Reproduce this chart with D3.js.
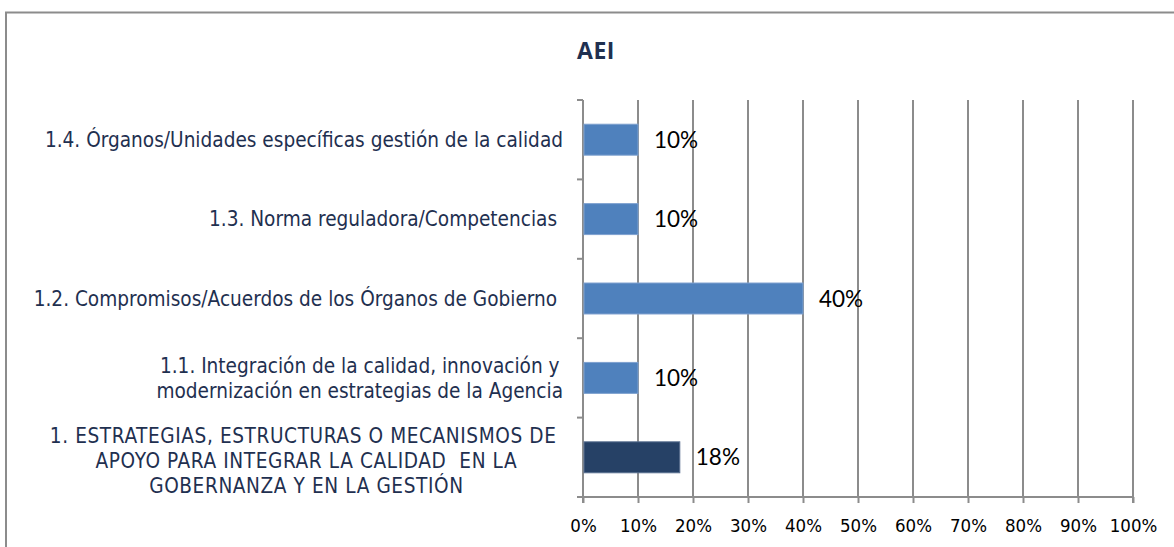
<!DOCTYPE html>
<html>
<head>
<meta charset="utf-8">
<script src="https://cdn.jsdelivr.net/npm/d3@7"></script>
<style>
  body { margin: 0; background: #fff; }
  svg { display: block; }
</style>
</head>
<body>
<div id="chart"></div>
<script>
// categories listed bottom to top as in the picture
const categories = [
    ["1. ESTRATEGIAS, ESTRUCTURAS O MECANISMOS DE ", "APOYO PARA INTEGRAR LA CALIDAD  EN LA", "GOBERNANZA Y EN LA GESTIÓN"],
    ["1.1. Integración de la calidad, innovación y", "modernización en estrategias de la Agencia"],
    ["1.2. Compromisos/Acuerdos de los Órganos de Gobierno "],
    ["1.3. Norma reguladora/Competencias "],
    ["1.4. Órganos/Unidades específicas gestión de la calidad"]
];
const values = [0.176, 0.10, 0.40, 0.10, 0.10];
const isTotal = [true, false, false, false, false];
const xTicks = [0, 0.1, 0.2, 0.3, 0.4, 0.5, 0.6, 0.7, 0.8, 0.9, 1.0];
const title = "AEI";

const W = 1174, H = 547;
const margin = { top: 100, right: 41, bottom: 50, left: 583 };
const width = W - margin.left - margin.right;
const height = H - margin.top - margin.bottom;

const svg = d3.select("#chart").append("svg")
    .attr("width", W)
    .attr("height", H);

// outer frame (runs off the right and bottom edges)
svg.append("rect")
    .attr("x", 6).attr("y", 12.5)
    .attr("width", 1300).attr("height", 700)
    .attr("fill", "none")
    .attr("stroke", "#8c8c8c")
    .attr("stroke-width", 2);

svg.append("text")
    .attr("x", 596).attr("y", 59)
    .attr("text-anchor", "middle")
    .attr("font-family", "'Open Sans', sans-serif")
    .attr("font-weight", 700)
    .attr("font-size", 23)
    .attr("letter-spacing", 0.5)
    .attr("fill", "#1f3050")
    .text(title);

const g = svg.append("g")
    .attr("transform", `translate(${margin.left},${margin.top})`);

const x = d3.scaleLinear().domain([0, 1]).range([0, width]);
const y = d3.scaleBand()
    .domain(d3.range(categories.length))
    .range([height, 0])
    .paddingInner(0.61)
    .paddingOuter(0.305);

// gridlines
g.append("g")
    .selectAll("line")
    .data(xTicks.slice(1))
    .join("line")
    .attr("x1", d => x(d)).attr("x2", d => x(d))
    .attr("y1", 0).attr("y2", height)
    .attr("stroke", "#8c8c8c")
    .attr("stroke-width", 2);

// x axis
const xAxis = g.append("g")
    .attr("transform", `translate(0,${height})`)
    .call(d3.axisBottom(x).tickValues(xTicks).tickFormat(d3.format(".0%")).tickSize(6).tickPadding(16));
xAxis.select(".domain").attr("stroke", "#8c8c8c").attr("stroke-width", 2)
    .attr("d", `M0,6V0H${width}V6`);
xAxis.selectAll(".tick line").attr("stroke", "#8c8c8c").attr("stroke-width", 2);
xAxis.selectAll(".tick text")
    .attr("font-family", "'DejaVu Sans Condensed', 'DejaVu Sans', sans-serif")
    .attr("font-size", 18.5)
    .attr("fill", "#000");

// y axis line with category ticks at band boundaries
const yTickPos = d3.range(categories.length + 1).map(i => height - i * (height / categories.length));
g.append("line")
    .attr("x1", 0).attr("x2", 0).attr("y1", 0).attr("y2", height)
    .attr("stroke", "#8c8c8c").attr("stroke-width", 2);
g.append("g").selectAll("line")
    .data(yTickPos)
    .join("line")
    .attr("x1", -6).attr("x2", 0)
    .attr("y1", d => d).attr("y2", d => d)
    .attr("stroke", "#8c8c8c").attr("stroke-width", 2);

// bars
g.append("g").selectAll("rect")
    .data(values)
    .join("rect")
    .attr("x", x(0) + 1)
    .attr("y", (d, i) => y(i))
    .attr("width", d => x(d) - x(0) - 1)
    .attr("height", y.bandwidth())
    .attr("fill", (d, i) => isTotal[i] ? "#264166" : "#4f81bd")
    .attr("stroke", (d, i) => isTotal[i] ? "#5a7090" : "#7ea1cf")
    .attr("stroke-width", 1);

// value labels
g.append("g").selectAll("text")
    .data(values)
    .join("text")
    .attr("x", d => x(d) + 16)
    .attr("y", (d, i) => y(i) + y.bandwidth() / 2)
    .attr("dy", "0.36em")
    .attr("font-family", "Lato, sans-serif")
    .attr("font-size", 22.5)
    .attr("fill", "#000")
    .text(d => d3.format(".0%")(d));

// category labels, lines centred within their block, block right-aligned
const labelRight = -20;
const lineH = 25;
const labels = g.append("g")
    .attr("font-family", "'DejaVu Sans Condensed', 'DejaVu Sans', sans-serif")
    .attr("font-size", 20.6)
    .attr("fill", "#1f3050");

categories.forEach((lines, i) => {
    const upper = lines.length > 2;
    const cy = y(i) + y.bandwidth() / 2 + (upper ? 3 : 0);
    const t = labels.append("text")
        .attr("y", cy)
        .attr("letter-spacing", upper ? 0.6 : 0)
        .style("white-space", "pre");
    const spans = lines.map((ln, k) => t.append("tspan")
        .attr("y", cy + (k - (lines.length - 1) / 2) * lineH)
        .attr("dy", "0.35em")
        .text(ln));
    const widths = spans.map(s => s.node().getComputedTextLength());
    const maxW = d3.max(widths);
    spans.forEach(s => s.attr("x", labelRight - maxW / 2).attr("text-anchor", "middle"));
});
</script>
</body>
</html>
